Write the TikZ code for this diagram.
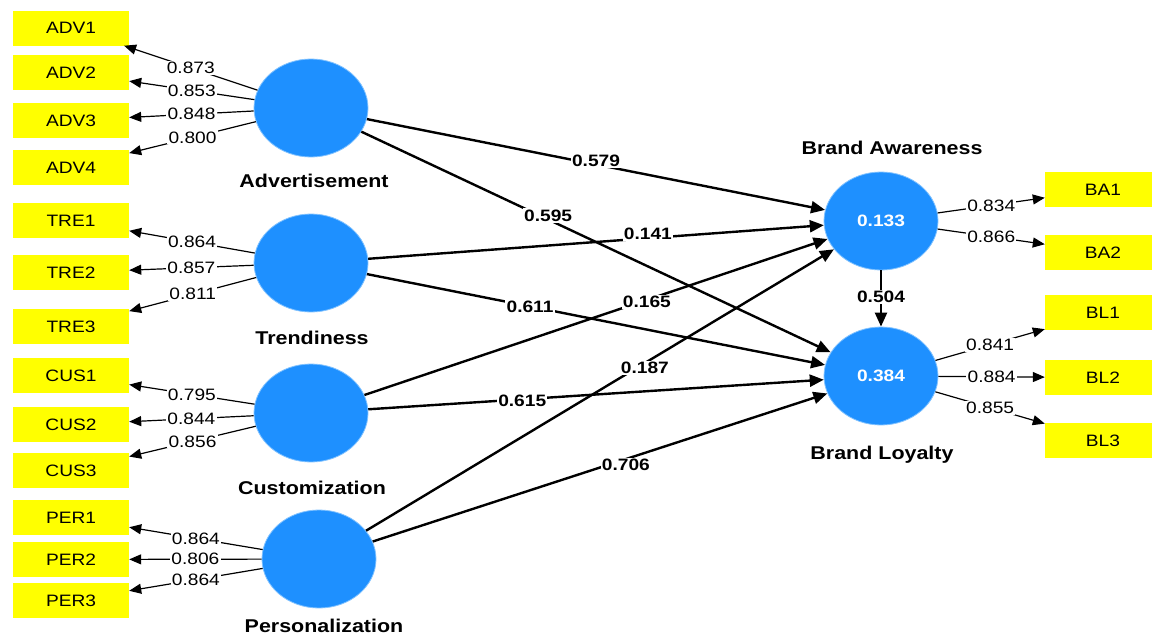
\documentclass[tikz,border=0pt]{standalone}
\usepackage{fontspec}
\setmainfont{Liberation Sans}[FakeStretch=1.16]
\usetikzlibrary{shapes.geometric,arrows.meta}
\definecolor{lvblue}{RGB}{30,144,255}
\definecolor{lvedge}{RGB}{130,195,255}
\definecolor{indyellow}{RGB}{255,255,0}
\begin{document}
\begin{tikzpicture}[x=1pt,y=-1pt,
  ind/.style={fill=indyellow, minimum width=116pt, minimum height=35pt, inner sep=0pt, font=\fontsize{16.5}{18}\selectfont},
  lv/.style={ellipse, fill=lvblue, draw=lvedge, line width=0.8pt, minimum width=114pt, minimum height=98pt, inner sep=0pt, text=white, font=\bfseries\fontsize{16.5}{18}\selectfont},
  lvname/.style={font=\bfseries\fontsize{18.5}{20}\selectfont, inner sep=1pt},
  ld/.style={line width=1.2pt, -{Triangle[length=12pt,width=10pt]}},
  pth/.style={line width=2.4pt, -{Triangle[length=14pt,width=12pt]}},
  ldl/.style={fill=white, inner sep=1.2pt, font=\fontsize{16.5}{18}\selectfont},
  pthl/.style={fill=white, inner sep=1.2pt, font=\bfseries\fontsize{16.5}{18}\selectfont}]
\useasboundingbox (0,0) rectangle (1152,637);
\fill[white] (0,0) rectangle (1152,637);
% indicators left
\node[ind] (adv1) at (71,28) {ADV1};
\node[ind] (adv2) at (71,72.5) {ADV2};
\node[ind] (adv3) at (71,120.5) {ADV3};
\node[ind] (adv4) at (71,167.5) {ADV4};
\node[ind] (tre1) at (71,220.5) {TRE1};
\node[ind] (tre2) at (71,272.5) {TRE2};
\node[ind] (tre3) at (71,326.5) {TRE3};
\node[ind] (cus1) at (71,375.5) {CUS1};
\node[ind] (cus2) at (71,424.5) {CUS2};
\node[ind] (cus3) at (71,470.5) {CUS3};
\node[ind] (per1) at (71,517.5) {PER1};
\node[ind] (per2) at (71,559.5) {PER2};
\node[ind] (per3) at (71,600.5) {PER3};
% indicators right
\node[ind] (ba1) at (1103,189.5) {BA1};
\node[ind] (ba2) at (1103,252.5) {BA2};
\node[ind] (bl1) at (1103,312.5) {BL1};
\node[ind] (bl2) at (1103,377.5) {BL2};
\node[ind] (bl3) at (1103,440.5) {BL3};
% latent variables
\node[lv] (adv) at (311,108) {};
\node[lv] (tre) at (311,263) {};
\node[lv] (cus) at (311,413) {};
\node[lv] (per) at (319,559) {};
\node[lv] (ba) at (881,221) {0.133};
\node[lv] (bl) at (881,376) {0.384};
\node[lvname] (advn) at (314,181) {Advertisement};
\node[lvname] (tren) at (312,338) {Trendiness};
\node[lvname] (cusn) at (312,488) {Customization};
\node[lvname] (pern) at (324,626) {Personalization};
\node[lvname] (ban) at (892,148) {Brand Awareness};
\node[lvname] (bln) at (882,455) {Brand Loyalty};
% loadings
\draw[ld] (adv) -- node[ldl] {0.873} (adv1);
\draw[ld] (adv) -- node[ldl] {0.853} (adv2);
\draw[ld] (adv) -- node[ldl] {0.848} (adv3);
\draw[ld] (adv) -- node[ldl] {0.800} (adv4);
\draw[ld] (tre) -- node[ldl] {0.864} (tre1);
\draw[ld] (tre) -- node[ldl] {0.857} (tre2);
\draw[ld] (tre) -- node[ldl] {0.811} (tre3);
\draw[ld] (cus) -- node[ldl] {0.795} (cus1);
\draw[ld] (cus) -- node[ldl] {0.844} (cus2);
\draw[ld] (cus) -- node[ldl] {0.856} (cus3);
\draw[ld] (per) -- node[ldl] {0.864} (per1);
\draw[ld] (per) -- node[ldl] {0.806} (per2);
\draw[ld] (per) -- node[ldl] {0.864} (per3);
\draw[ld] (ba) -- node[ldl] {0.834} (ba1);
\draw[ld] (ba) -- node[ldl] {0.866} (ba2);
\draw[ld] (bl) -- node[ldl] {0.841} (bl1);
\draw[ld] (bl) -- node[ldl] {0.884} (bl2);
\draw[ld] (bl) -- node[ldl] {0.855} (bl3);
% structural paths
\draw[pth] (adv) -- node[pthl,pos=0.5,yshift=4pt] {0.579} (ba);
\draw[pth] (adv) -- node[pthl,pos=0.398,yshift=4pt] {0.595} (bl);
\draw[pth] (tre) -- node[pthl,pos=0.614,yshift=4pt] {0.141} (ba);
\draw[pth] (tre) -- node[pthl,pos=0.356] {0.611} (bl);
\draw[pth] (cus) -- node[pthl,pos=0.61,yshift=-2pt] {0.165} (ba);
\draw[pth] (cus) -- node[pthl,pos=0.338,yshift=-2pt] {0.615} (bl);
\draw[pth] (per) -- node[pthl,pos=0.596,yshift=-5pt] {0.187} (ba);
\draw[pth] (per) -- node[pthl,pos=0.557,yshift=-6pt] {0.706} (bl);
\draw[pth] (ba) -- node[pthl,pos=0.47] {0.504} (bl);
\end{tikzpicture}
\end{document}
